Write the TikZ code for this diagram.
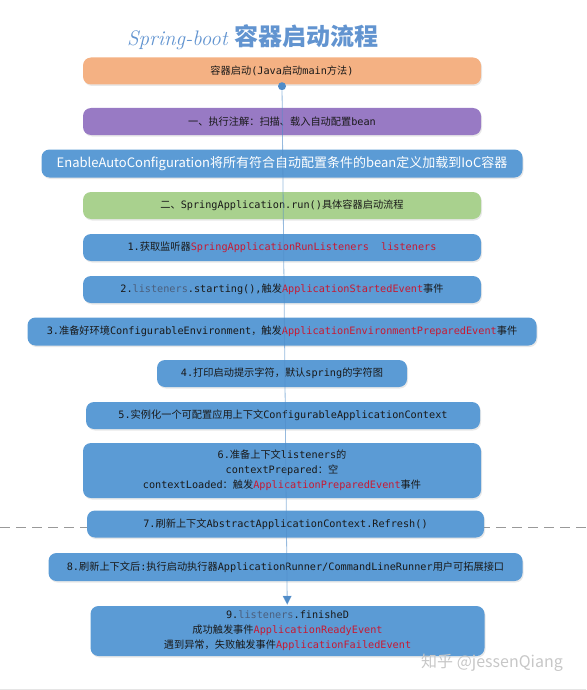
\documentclass[tikz,border=0pt]{standalone}
\usepackage{fontspec}
\setmonofont{DejaVu Sans Mono}
\newfontfamily\cjk{Noto Sans CJK SC}
\usetikzlibrary{arrows.meta,shadows}

\definecolor{peach}{RGB}{244,177,131}
\definecolor{lavender}{RGB}{152,122,196}
\definecolor{steel}{RGB}{91,155,213}
\definecolor{sage}{RGB}{169,209,142}
\definecolor{evtred}{RGB}{200,25,50}
\definecolor{slate}{RGB}{75,95,125}
\definecolor{titleblue}{RGB}{98,148,208}
\definecolor{linkblue}{RGB}{80,140,200}

\newcommand{\zh}[1]{{\cjk #1}}
\newcommand{\evt}[1]{\textcolor{evtred}{#1}}
\newcommand{\lis}{\textcolor{slate}{listeners}}

\tikzstyle{boxstyle} = [rectangle,
minimum width=398pt,
minimum height=27pt,
inner sep=2pt,
align=center,
rounded corners=8pt,
text=black!90,
font=\ttfamily\fontsize{10.2}{15}\selectfont,
drop shadow={shadow xshift=1pt, shadow yshift=-1.5pt, opacity=0.18}]
\tikzstyle{startstyle} = [boxstyle, fill=peach]
\tikzstyle{annotstyle} = [boxstyle, fill=lavender]
\tikzstyle{autoconfstyle} = [boxstyle,
minimum width=481pt,
minimum height=28pt,
fill=steel,
text=white,
font=\cjk\fontsize{13}{16}\selectfont]
\tikzstyle{runstyle} = [boxstyle, fill=sage]
\tikzstyle{stepstyle} = [boxstyle, fill=steel]
\tikzstyle{titlestyle} = [text=titleblue,
font=\fontsize{21}{24}\selectfont]
\tikzstyle{markstyle} = [text=black!22,
font=\cjk\fontsize{16}{18}\selectfont]
\tikzstyle{dotstyle} = [circle,
fill=linkblue,
inner sep=0pt,
minimum size=8pt]
\tikzstyle{dashline} = [draw=black!40, line width=0.8pt, dash pattern=on 10pt off 6pt]
\tikzstyle{arrow} = [draw=linkblue, draw opacity=0.6, line width=0.8pt, -{Triangle[width=9pt,length=9pt]}, shorten >=1pt]

\begin{document}
\begin{tikzpicture}[x=1pt, y=-1pt, node distance=42pt]
\useasboundingbox (0,0) rectangle (586,690);
\draw [draw=black!10] (0,689.5) -- (586,689.5);
\draw [dashline] (0,527) -- (586,527);

\node (title) [titlestyle] at (253,37) {\textit{Spring-boot} \zh{\fontsize{24}{26}\selectfont\bfseries 容器启动流程}};

\node (start) [startstyle] at (282,71) {\zh{容器启动}(Java\zh{启动}main\zh{方法})};

\node (annot) [annotstyle, below of=start, yshift=-8.5pt] {\zh{一、执行注解：扫描、载入自动配置}bean};

\node (autoconf) [autoconfstyle, below of=annot] {EnableAutoConfiguration将所有符合自动配置条件的bean定义加载到IoC容器};

\node (run) [runstyle, below of=autoconf] {\zh{二、}SpringApplication.run()\zh{具体容器启动流程}};

\node (s1) [stepstyle, below of=run] {1.\zh{获取监听器}\evt{SpringApplicationRunListeners\ \ listeners}};

\node (s2) [stepstyle, below of=s1] {2.\lis.starting(),\zh{触发}\evt{ApplicationStartedEvent}\zh{事件}};

\node (s3) [stepstyle, below of=s2, minimum width=509pt, minimum height=28pt] {3.\zh{准备好环境}ConfigurableEnvironment\zh{，触发}\evt{ApplicationEnvironmentPreparedEvent}\zh{事件}};

\node (s4) [stepstyle, below of=s3, minimum width=250pt] {4.\zh{打印启动提示字符，默认}spring\zh{的字符图}};

\node (s5) [stepstyle, below of=s4, minimum width=394pt, xshift=1pt] {5.\zh{实例化一个可配置应用上下文}ConfigurableApplicationContext};

\node (s6) [stepstyle, below of=s5, minimum height=55pt, xshift=-1pt, yshift=-13pt] {6.\zh{准备上下文}listeners\zh{的}\\contextPrepared\zh{：空}\\contextLoaded\zh{：触发}\evt{ApplicationPreparedEvent}\zh{事件}};

\node (s7) [stepstyle, below of=s6, minimum width=397pt, xshift=3.5pt, yshift=-11.5pt] {7.\zh{刷新上下文}AbstractApplicationContext.Refresh()};

\node (s8) [stepstyle, below of=s7, minimum width=474pt, minimum height=28pt, yshift=-1pt] {8.\zh{刷新上下文后}:\zh{执行启动执行器}ApplicationRunner/CommandLineRunner\zh{用户可拓展接口}};

\node (s9) [stepstyle, below of=s8, minimum width=394pt, minimum height=50pt, xshift=2pt, yshift=-22pt] {9.\lis.finisheD\\\zh{成功触发事件}\evt{ApplicationReadyEvent}\\\zh{遇到异常，失败触发事件}\evt{ApplicationFailedEvent}};

\node (mark) [markstyle] at (492,663) {知乎 @jessenQiang};

\node (dot) [dotstyle] at ([yshift=-1.5pt]start.south) {};

\draw [arrow] (dot) -- (s9);
\end{tikzpicture}
\end{document}
